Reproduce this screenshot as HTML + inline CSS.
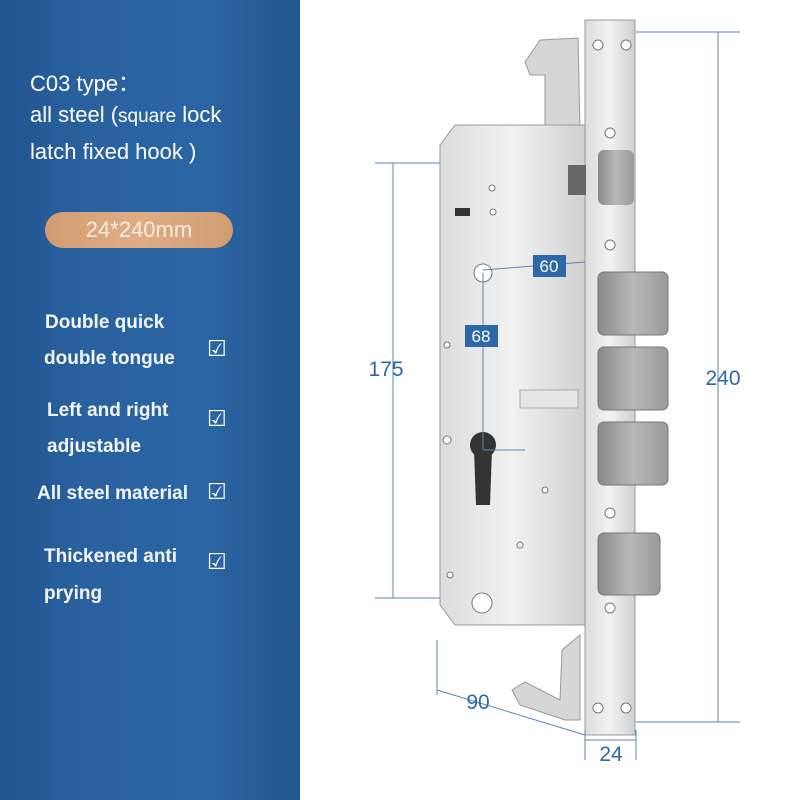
<!DOCTYPE html>
<html><head><meta charset="utf-8"><style>
body{margin:0;width:800px;height:800px;position:relative;background:#fff;font-family:"Liberation Sans",sans-serif;overflow:hidden}
#left{position:absolute;left:0;top:0;width:300px;height:800px;background:linear-gradient(90deg,#1f5590 0%,#2a62a0 30%,#2b64a3 70%,#22578f 100%)}
.t{position:absolute;color:#fff;white-space:nowrap}
.h{font-size:22px}
.f{font-size:19px;font-weight:bold;color:#f4f6fa}
.c{font-size:22px;color:#fff}
#pill{position:absolute;left:45px;top:212px;width:188px;height:36px;border-radius:18px;background:linear-gradient(90deg,#d19c72,#e0ad85,#d19c72);color:#f7ece2;font-size:22px;text-align:center;line-height:36px}
</style></head><body>
<div id="left">
<div class="t h" style="left:30px;top:66px">C03 type：</div>
<div class="t h" style="left:30px;top:102px">all steel (<span style="font-size:19px">square</span> lock</div>
<div class="t h" style="left:30px;top:139px">latch fixed hook )</div>
<div id="pill">24*240mm</div>
<div class="t f" style="left:45px;top:312px">Double quick</div>
<div class="t f" style="left:44px;top:348px">double tongue</div>
<div class="t c" style="left:207px;top:336px">☑</div>
<div class="t f" style="left:47px;top:400px">Left and right</div>
<div class="t f" style="left:47px;top:436px">adjustable</div>
<div class="t c" style="left:207px;top:406px">☑</div>
<div class="t f" style="left:37px;top:483px">All steel material</div>
<div class="t c" style="left:207px;top:479px">☑</div>
<div class="t f" style="left:44px;top:546px">Thickened anti</div>
<div class="t f" style="left:44px;top:583px">prying</div>
<div class="t c" style="left:207px;top:549px">☑</div>
</div>
<svg width="800" height="800" style="position:absolute;left:0;top:0">
<defs>
<linearGradient id="m" x1="0" x2="1"><stop offset="0" stop-color="#dcdcdc"/><stop offset=".5" stop-color="#f2f2f2"/><stop offset="1" stop-color="#d0d0d0"/></linearGradient>
<linearGradient id="b" x1="0" x2="1"><stop offset="0" stop-color="#8a8a8a"/><stop offset=".5" stop-color="#b8b8b8"/><stop offset="1" stop-color="#9a9a9a"/></linearGradient>
</defs>
<path d="M525 62 L540 40 L578 38 L580 130 L545 130 L545 75 L530 75 Z" fill="#d6d6d6" stroke="#999"/>
<path d="M512 690 L525 682 L560 700 L562 650 L580 635 L580 720 L565 720 L520 705 Z" fill="#d6d6d6" stroke="#999"/>
<path d="M455 125 L585 125 L585 625 L455 625 L440 605 L440 145 Z" fill="url(#m)" stroke="#999"/>
<rect x="585" y="20" width="50" height="715" fill="url(#m)" stroke="#999"/>
<g fill="#fff" stroke="#777">
<circle cx="598" cy="45" r="5"/><circle cx="626" cy="45" r="5"/><circle cx="610" cy="133" r="5"/><circle cx="610" cy="245" r="5"/><circle cx="610" cy="513" r="5"/><circle cx="610" cy="608" r="5"/><circle cx="598" cy="708" r="5"/><circle cx="626" cy="708" r="5"/>
<circle cx="483" cy="273" r="9"/><circle cx="482" cy="603" r="10"/><circle cx="447" cy="440" r="4"/><circle cx="492" cy="188" r="3"/><circle cx="493" cy="212" r="3"/><circle cx="447" cy="345" r="3"/><circle cx="545" cy="490" r="3"/><circle cx="520" cy="545" r="3"/><circle cx="450" cy="575" r="3"/>
</g>
<rect x="598" y="150" width="36" height="55" rx="6" fill="url(#b)"/>
<rect x="568" y="165" width="18" height="30" fill="#666"/>
<g fill="url(#b)" stroke="#777">
<rect x="598" y="272" width="70" height="63" rx="6"/>
<rect x="598" y="347" width="70" height="63" rx="6"/>
<rect x="598" y="422" width="70" height="63" rx="6"/>
<rect x="598" y="533" width="62" height="62" rx="6"/>
</g>
<rect x="520" y="390" width="58" height="18" fill="#e6e6e6" stroke="#aaa"/>
<circle cx="483" cy="445" r="13" fill="#333"/>
<path d="M474 450 L492 450 L490 505 L476 505 Z" fill="#333"/>
<rect x="455" y="208" width="15" height="8" fill="#333"/>
<g stroke="#5a86b5" fill="none" stroke-width="1">
<line x1="393" y1="163" x2="393" y2="598"/><line x1="375" y1="163" x2="440" y2="163"/><line x1="375" y1="598" x2="440" y2="598"/>
<line x1="718" y1="32" x2="718" y2="722"/><line x1="636" y1="32" x2="740" y2="32"/><line x1="636" y1="722" x2="740" y2="722"/>
<line x1="437" y1="690" x2="585" y2="735"/><line x1="437" y1="640" x2="437" y2="695"/>
<line x1="585" y1="730" x2="585" y2="760"/><line x1="636" y1="730" x2="636" y2="760"/><line x1="585" y1="740" x2="636" y2="740"/>
<line x1="483" y1="273" x2="483" y2="450"/><line x1="483" y1="270" x2="585" y2="262"/><line x1="483" y1="450" x2="525" y2="450"/>
</g>
<rect x="533" y="255" width="33" height="22" fill="#2d68a8"/><text x="549" y="272" fill="#fff" font-size="17" text-anchor="middle" font-family="Liberation Sans">60</text>
<rect x="465" y="325" width="33" height="22" fill="#2d68a8"/><text x="481" y="342" fill="#fff" font-size="17" text-anchor="middle" font-family="Liberation Sans">68</text>
<g fill="#2d68a8" font-size="21" font-family="Liberation Sans" text-anchor="middle">
<text x="386" y="376">175</text><text x="723" y="385">240</text><text x="478" y="709">90</text><text x="611" y="761">24</text>
</g>
</svg>
</body></html>
